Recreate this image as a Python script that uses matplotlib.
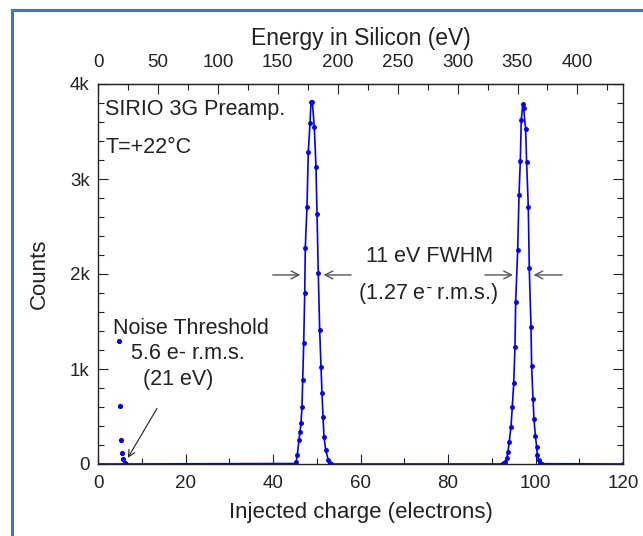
import matplotlib
matplotlib.use("Agg")
import matplotlib.pyplot as plt
from matplotlib.patches import Rectangle
from matplotlib.ticker import MultipleLocator

plt.rcParams['font.family'] = ['Liberation Sans', 'DejaVu Sans']

EV_PER_E = 3.65

# spectrum (injected charge in electrons, counts)
peak1_q = [6.5, 45.0, 45.3, 45.55, 45.94, 46.17, 46.40, 46.63, 46.79, 47.02, 47.25, 47.38,
           47.77, 48.07, 48.46, 48.69, 48.99, 49.44, 49.83, 50.06, 50.35, 50.67, 50.97,
           51.20, 51.43, 51.66, 52.05, 52.64, 52.95, 53.3]
peak1_n = [0, 5, 25, 95, 253, 337, 432, 600, 884, 1274, 1800, 2274,
           2705, 3284, 3589, 3810, 3810, 3547, 3126, 2632, 2011, 1411, 1021,
           747, 495, 284, 147, 42, 12, 0]
peak2_q = [92.4, 92.75, 93.03, 93.42, 93.71, 94.00, 94.40, 94.70, 95.02, 95.31, 95.47, 95.93,
           96.23, 96.53, 96.75, 97.10, 97.30, 97.74, 97.97, 98.35, 98.58, 98.97, 99.12,
           99.43, 99.66, 99.96, 100.27, 100.41, 100.73, 101.0, 101.4, 120.0]
peak2_n = [0, 8, 24, 60, 130, 235, 393, 603, 849, 1235, 1708, 2253,
           2832, 3193, 3621, 3790, 3744, 3523, 3182, 2709, 2060, 1445, 1032,
           681, 470, 298, 182, 95, 42, 15, 3, 0]
noise_q = [4.72, 4.95, 5.26, 5.49, 5.79, 6.10]
noise_n = [1295, 611, 253, 119, 49, 14]

fig = plt.figure(figsize=(6.43, 5.36), dpi=100)
# blue frame around the slide figure
fig.patches.append(Rectangle((12/643, -0.1), 1.2, 1 - 10/536 + 0.1, transform=fig.transFigure,
                             fill=False, ec='#4472C4', lw=2.2))
ax = fig.add_axes([98/643, 1 - 464/536, 525/643, 380/536])

blue = '#0000FF'
q = peak1_q + peak2_q
n = peak1_n + peak2_n
ax.plot(q, n, color=blue, lw=1.2, marker='o', ms=2.5, mec=blue, mfc=blue)
ax.plot([0, 6.5], [0, 0], color=blue, lw=1.2)
ax.plot(noise_q, noise_n, ls='none', marker='o', ms=2.7, color=blue)

ax.set_xlim(0, 120)
ax.set_ylim(0, 4000)
ax.xaxis.set_major_locator(MultipleLocator(20))
ax.xaxis.set_minor_locator(MultipleLocator(10))
ax.set_yticks([0, 1000, 2000, 3000, 4000])
ax.set_yticklabels(['0', '1k', '2k', '3k', '4k'])
ax.yaxis.set_minor_locator(MultipleLocator(200))
ax.tick_params(which='both', direction='in', right=True, labelsize=13.5, colors='#222222')
ax.tick_params(which='major', length=7, width=0.8)
ax.tick_params(which='minor', length=4, width=0.8)
ax.tick_params(axis='x', pad=8)
ax.tick_params(axis='y', pad=6)
for s in ax.spines.values():
    s.set_linewidth(1.0)
    s.set_color('#222222')

ax.set_xlabel('Injected charge (electrons)', fontsize=16, labelpad=7, color='#222222')
ax.set_ylabel('Counts', fontsize=16, labelpad=14, color='#222222')

top = ax.secondary_xaxis('top', functions=(lambda x: x * EV_PER_E, lambda e: e / EV_PER_E))
top.xaxis.set_major_locator(MultipleLocator(50))
top.xaxis.set_minor_locator(MultipleLocator(25))
top.tick_params(which='both', direction='in', labelsize=13.5, colors='#222222', pad=9)
top.tick_params(which='major', length=7, width=0.8)
top.tick_params(which='minor', length=4, width=0.8)
top.set_xticks([0, 50, 100, 150, 200, 250, 300, 350, 400])
top.set_xlabel('Energy in Silicon (eV)', fontsize=16.5, labelpad=7, color='#222222')

txt = dict(fontsize=15.5, color='#222222')
ax.text(1.6, 3730, 'SIRIO 3G Preamp.', va='center', ha='left', **txt)
ax.text(1.6, 3330, 'T=+22°C', va='center', ha='left', **txt)
ax.text(75.9, 2180, '11 eV FWHM', va='center', ha='center', **txt)
ax.text(75.5, 1790, '(1.27 e$^{\\bar{\\ }}$ r.m.s.)', va='center', ha='center', **txt)
ax.text(3.4, 1430, 'Noise Threshold', va='center', ha='left', **txt)
ax.text(20.6, 1165, '5.6 e- r.m.s.', va='center', ha='center', **txt)
ax.text(18.3, 885, '(21 eV)', va='center', ha='center', **txt)

arr = dict(arrowstyle='->', color='#555555', lw=1.0, mutation_scale=14)
for x0, x1 in [(39.3, 46.9), (58.5, 50.9), (87.8, 95.5), (106.7, 98.9)]:
    ax.annotate('', xy=(x1, 1990), xytext=(x0, 1990), arrowprops=arr)
ax.annotate('', xy=(6.5, 40), xytext=(13.8, 610),
            arrowprops=dict(arrowstyle='->', color='#222222', lw=0.8, mutation_scale=12))

fig.savefig('out.png', dpi=100)
